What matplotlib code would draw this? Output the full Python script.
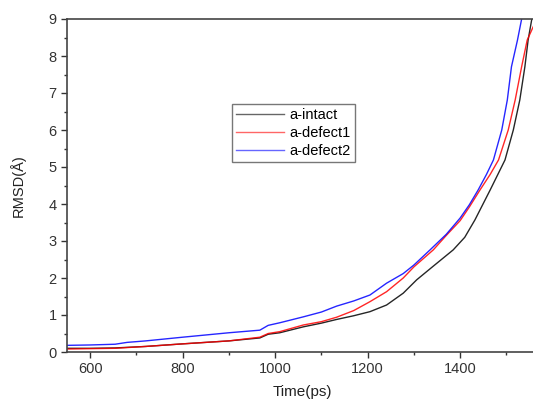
import matplotlib
matplotlib.use("Agg")
import matplotlib.pyplot as plt
from matplotlib.ticker import MultipleLocator

plt.rcParams['font.family'] = ['Liberation Sans', 'DejaVu Sans']

# ---- data ----
t_intact = [550, 600, 654, 720, 800, 900, 967, 985, 1010, 1061, 1100, 1133, 1170, 1205,
            1241, 1277, 1306, 1340, 1385, 1410, 1432, 1465, 1497, 1515, 1529, 1540, 1547, 1555]
v_intact = [0.10, 0.10, 0.11, 0.15, 0.22, 0.30, 0.38, 0.48, 0.52, 0.68, 0.78, 0.88, 0.98, 1.09,
            1.27, 1.59, 1.95, 2.30, 2.76, 3.10, 3.57, 4.38, 5.19, 6.00, 6.81, 7.71, 8.43, 9.00]

t_def1 = [550, 600, 654, 720, 800, 900, 967, 985, 1010, 1061, 1100, 1133, 1170, 1205,
          1241, 1277, 1300, 1342, 1370, 1400, 1420, 1443, 1465, 1483, 1504, 1519, 1533, 1545, 1562]
v_def1 = [0.08, 0.09, 0.10, 0.15, 0.22, 0.30, 0.40, 0.50, 0.55, 0.73, 0.82, 0.94, 1.12, 1.36,
          1.63, 2.00, 2.30, 2.76, 3.15, 3.55, 3.92, 4.38, 4.80, 5.19, 6.00, 6.81, 7.71, 8.43, 8.90]

t_def2 = [550, 600, 654, 680, 720, 800, 850, 900, 967, 985, 1010, 1061, 1100, 1133, 1170,
          1205, 1241, 1277, 1300, 1335, 1370, 1400, 1420, 1439, 1457, 1472, 1490, 1502, 1511, 1524, 1533]
v_def2 = [0.18, 0.19, 0.21, 0.26, 0.30, 0.40, 0.46, 0.52, 0.59, 0.72, 0.79, 0.95, 1.08, 1.24, 1.38,
          1.54, 1.86, 2.12, 2.35, 2.76, 3.18, 3.62, 3.98, 4.38, 4.80, 5.19, 6.00, 6.81, 7.71, 8.43, 9.00]

labels = ["a-intact", "a-defect1", "a-defect2"]
colors = ["#000000", "#ff0000", "#0000ff"]
x_ticks = [600, 800, 1000, 1200, 1400]
y_ticks = [0, 1, 2, 3, 4, 5, 6, 7, 8, 9]

W, H = 533, 400
fig = plt.figure(figsize=(W / 100, H / 100), dpi=100)

ax = fig.add_axes([67 / W, 48 / H, (537 - 67) / W, (352 - 19) / H])

series = [(t_intact, v_intact), (t_def1, v_def1), (t_def2, v_def2)]
for (t, v), lab, c in zip(series, labels, colors):
    ax.plot(t, v, color=c, lw=1.0, label=lab, alpha=0.85)

ax.set_xlim(550, 550 + (537 - 67) / 0.4625)
ax.set_ylim(0, 9)
ax.set_xticks(x_ticks)
ax.set_yticks(y_ticks)
ax.xaxis.set_minor_locator(MultipleLocator(100))
ax.yaxis.set_minor_locator(MultipleLocator(0.5))
ax.tick_params(which="major", direction="out", length=4, width=1, labelsize=10.5,
               colors="#333333", labelcolor="#333333")
ax.tick_params(which="minor", direction="out", length=2.5, width=1, colors="#333333")
for s in ["left", "bottom", "top", "right"]:
    ax.spines[s].set_color("#444444")
    ax.spines[s].set_linewidth(1.2)
ax.spines["right"].set_visible(False)

ax.set_xlabel("Time(ps)", fontsize=11, color="#222222", labelpad=6)
ax.set_ylabel("RMSD(Å)", fontsize=10.5, color="#222222", labelpad=16)

leg = ax.legend(loc="upper left", bbox_to_anchor=(232 / W, 1 - 104 / H),
                bbox_transform=fig.transFigure, fontsize=10.5, frameon=True,
                fancybox=False, borderpad=0.25, labelspacing=0.3, handlelength=3.3,
                handletextpad=0.4, borderaxespad=0)
leg.get_frame().set_edgecolor("#555555")
leg.get_frame().set_linewidth(1.0)
for line in leg.get_lines():
    line.set_alpha(0.6)

fig.savefig("out.png", dpi=100)
